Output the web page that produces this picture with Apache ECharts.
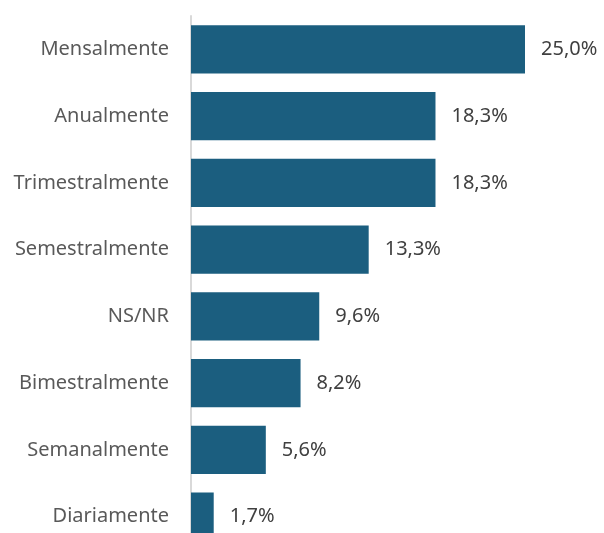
<!DOCTYPE html>
<html>
<head>
<meta charset="utf-8">
<script src="https://cdn.jsdelivr.net/npm/echarts@6/dist/echarts.min.js"></script>
<style>
  html, body { margin: 0; padding: 0; background: #fff; }
  #main { width: 604px; height: 533px; }
</style>
</head>
<body>
<div id="main"></div>
<script>
// dados do gráfico
var categorias = ['Mensalmente', 'Anualmente', 'Trimestralmente', 'Semestralmente', 'NS/NR', 'Bimestralmente', 'Semanalmente', 'Diariamente'];
var valores = [25.0, 18.3, 18.3, 13.3, 9.6, 8.2, 5.6, 1.7];

var myChart = echarts.init(document.getElementById('main'));
myChart.setOption({
    animation: false,
    grid: {
        left: 191,
        top: 16,
        width: 334,
        height: 534,
        outerBoundsMode: 'none',
        containLabel: false
    },
    xAxis: {
        type: 'value',
        min: 0,
        max: 25,
        show: false
    },
    yAxis: {
        type: 'category',
        inverse: true,
        data: categorias,
        axisLine: { show: true, lineStyle: { color: '#d9d9d9', width: 2 } },
        axisTick: { show: false },
        axisLabel: {
            margin: 22,
            color: '#595959',
            fontSize: 20,
            fontFamily: 'Noto Sans'
        }
    },
    series: [{
        type: 'bar',
        data: valores,
        barCategoryGap: '28%',
        itemStyle: { color: '#1b5e7f' },
        label: {
            show: true,
            position: 'right',
            distance: 16,
            color: '#404040',
            fontSize: 20,
            fontFamily: 'Noto Sans',
            formatter: function (p) {
                return p.value.toFixed(1).replace('.', ',') + '%';
            }
        }
    }]
});
</script>
</body>
</html>
